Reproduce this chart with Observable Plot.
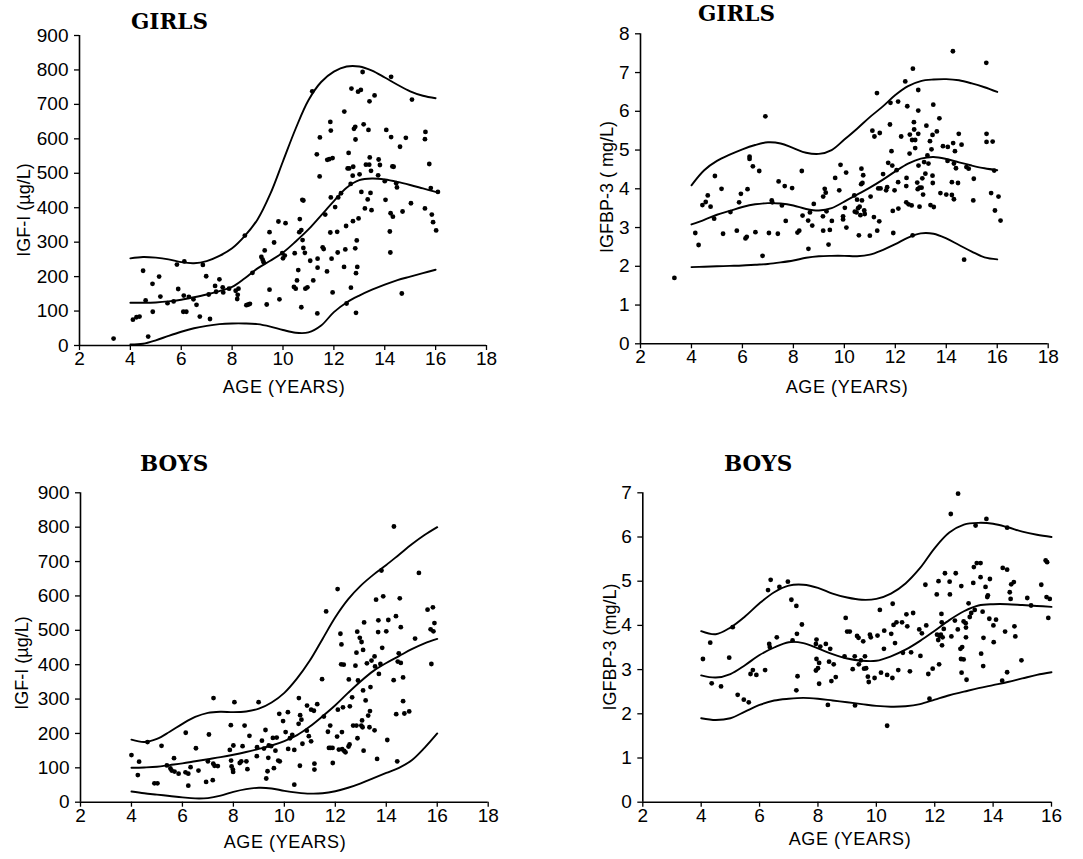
<!DOCTYPE html>
<html><head><meta charset="utf-8">
<script src="https://cdn.jsdelivr.net/npm/d3@7"></script>
<script src="https://cdn.jsdelivr.net/npm/@observablehq/plot@0.6"></script>
<style>
body{margin:0;background:#fff;}
#root{position:relative;width:1083px;height:859px;overflow:hidden;font-family:"Liberation Sans",Arial,sans-serif;color:#000;}
.panel{position:absolute;}
.panel text{font-size:19px;}
.title{position:absolute;font-family:"DejaVu Serif",serif;font-weight:bold;font-size:21.5px;line-height:1;white-space:nowrap;}
.xlab{position:absolute;font-size:18px;line-height:1;white-space:nowrap;transform:translateX(-50%);letter-spacing:0.6px;}
.ylab{position:absolute;font-size:18px;line-height:1;white-space:nowrap;transform:translate(-50%,-50%) rotate(-90deg);}
</style></head>
<body><div id="root"></div>
<script>
// ---------- DATA ----------
const ageTicks = [2,4,6,8,10,12,14,16,18];
const ageTicksBoysBP3 = [2,4,6,8,10,12,14,16];
const igf1Ticks = [0,100,200,300,400,500,600,700,800,900];
const igfbp3GirlsTicks = [0,1,2,3,4,5,6,7,8];
const igfbp3BoysTicks = [0,1,2,3,4,5,6,7];
const curveAges = [4,4.5,5,5.5,6,6.5,7,7.5,8,8.5,9,9.5,10,10.5,11,11.5,12,12.5,13,13.5,14,14.5,15,15.5,16];

// Girls IGF-I
const girlsIgf1 = [[3.34,20],[4.1,75],[4.24,82],[4.36,84],[4.5,217],[4.6,131],[4.7,26],[4.87,179],[4.88,98],[5.13,200],[5.18,142],[5.46,123],[5.7,128],[5.88,164],[5.83,235],[6.08,98],[6.2,98],[6.12,244],[6.1,145],[6.3,141],[6.48,134],[6.6,118],[6.73,84],[6.85,234],[6.98,201],[7.08,148],[7.13,77],[7.33,173],[7.37,156],[7.5,192],[7.63,169],[7.65,154],[7.88,165],[8.14,159],[8.22,147],[8.25,165],[8.2,135],[8.56,117],[8.64,119],[8.7,121],[8.5,319],[8.8,211],[9.15,257],[9.2,249],[9.28,276],[9.24,242],[9.36,119],[9.47,329],[9.47,162],[9.65,299],[9.82,360],[9.86,134],[9.97,268],[10.0,253],[10.07,261],[10.1,355],[10.43,170],[10.5,165],[10.46,268],[10.55,189],[10.6,219],[10.64,329],[10.66,367],[10.72,335],[10.72,111],[10.76,423],[10.8,421],[10.77,306],[10.8,283],[10.86,269],[10.88,165],[10.96,169],[11.07,246],[11.15,738],[11.19,189],[11.33,555],[11.36,226],[11.36,252],[11.35,93],[11.44,491],[11.45,604],[11.56,285],[11.6,280],[11.66,380],[11.73,215],[11.74,539],[11.82,541],[11.95,544],[11.86,649],[11.88,624],[11.86,328],[11.88,430],[11.91,252],[11.95,154],[12.05,402],[12.13,330],[12.15,270],[12.17,430],[12.28,442],[12.4,228],[12.41,679],[12.45,279],[12.48,347],[12.5,122],[12.54,514],[12.58,559],[12.6,514],[12.67,168],[12.66,469],[12.69,746],[12.74,493],[12.75,361],[12.76,519],[12.79,629],[12.84,635],[12.85,598],[12.84,282],[12.87,210],[12.87,95],[12.9,305],[12.92,228],[12.95,737],[12.97,369],[13.01,497],[13.06,742],[13.08,446],[13.13,794],[13.17,642],[13.22,398],[13.26,525],[13.33,424],[13.36,626],[13.39,525],[13.4,709],[13.41,546],[13.44,443],[13.46,507],[13.48,393],[13.6,726],[13.74,494],[13.76,540],[13.81,524],[14.0,477],[14.03,423],[14.06,626],[14.2,331],[14.22,270],[14.23,384],[14.25,780],[14.25,605],[14.3,520],[14.32,374],[14.35,519],[14.45,471],[14.48,459],[14.6,577],[14.67,151],[14.7,389],[14.83,603],[15.03,413],[15.07,714],[15.6,620],[15.58,599],[15.58,398],[15.75,527],[15.81,457],[15.85,380],[15.9,358],[16.02,334],[16.09,446]];
const girlsIgf1Upper = [253,257,255,250,242,239,245,260,282,318,366,440,535,630,712,765,795,810,810,798,778,757,738,725,718];
const girlsIgf1Middle = [124,124,125,128,133,140,148,158,170,195,224,246,270,302,337,378,419,458,480,485,482,475,466,456,446];
const girlsIgf1Lower = [3,5,15,28,40,50,57,62,64,64,62,55,45,37,38,58,97,125,145,162,177,190,200,210,220];

// Girls IGFBP-3
const girlsBp3 = [[3.33,1.70],[4.15,2.86],[4.28,2.55],[4.43,3.58],[4.56,3.66],[4.64,3.83],[4.75,3.54],[4.89,3.23],[4.92,4.33],[5.18,4.0],[5.24,2.84],[5.53,3.4],[5.78,2.92],[5.87,3.65],[5.94,3.87],[6.12,2.72],[6.17,2.76],[6.2,3.99],[6.28,4.83],[6.28,4.77],[6.41,4.58],[6.51,2.88],[6.66,4.46],[6.79,2.27],[6.9,5.87],[7.04,2.86],[7.15,3.7],[7.17,3.65],[7.39,2.84],[7.42,4.19],[7.55,3.57],[7.66,4.07],[7.7,3.17],[7.95,4.02],[8.16,2.87],[8.23,2.92],[8.33,4.46],[8.36,3.31],[8.58,3.18],[8.59,2.45],[8.65,3.39],[8.74,3.05],[8.8,3.61],[9.16,3.29],[9.17,2.92],[9.17,3.8],[9.23,4.0],[9.27,3.9],[9.3,3.42],[9.38,2.56],[9.43,2.94],[9.51,3.17],[9.64,4.28],[9.8,3.96],[9.85,4.62],[9.95,3.29],[9.95,3.21],[10.02,3.51],[10.07,4.42],[10.08,3.0],[10.39,3.83],[10.41,3.41],[10.48,3.39],[10.5,3.72],[10.54,3.5],[10.57,2.8],[10.6,3.54],[10.63,3.32],[10.66,4.12],[10.67,4.52],[10.69,3.7],[10.71,4.15],[10.74,4.35],[10.78,3.44],[10.8,3.35],[11.0,2.79],[11.03,3.8],[11.1,5.5],[11.16,3.27],[11.18,5.35],[11.28,6.47],[11.29,2.92],[11.33,4.01],[11.37,3.16],[11.39,5.44],[11.42,4.01],[11.52,4.38],[11.64,3.96],[11.68,4.04],[11.72,4.67],[11.79,5.66],[11.81,6.22],[11.85,4.97],[11.88,4.6],[11.9,3.43],[11.92,2.86],[11.97,3.96],[12.05,4.48],[12.11,4.17],[12.11,6.25],[12.12,3.49],[12.23,5.35],[12.39,6.77],[12.43,4.07],[12.44,4.28],[12.47,6.13],[12.43,3.65],[12.52,3.6],[12.56,4.91],[12.57,5.4],[12.64,3.57],[12.66,5.26],[12.69,7.1],[12.68,2.8],[12.73,5.72],[12.74,5.53],[12.78,5.26],[12.78,5.05],[12.86,4.16],[12.88,3.99],[12.9,6.55],[12.9,6.02],[12.9,5.42],[12.91,4.6],[12.95,3.54],[12.95,4.03],[13.03,4.03],[13.06,4.27],[13.09,3.85],[13.13,4.69],[13.18,4.39],[13.22,5.63],[13.26,4.86],[13.3,4.65],[13.36,5.23],[13.38,3.58],[13.42,5.02],[13.46,5.39],[13.46,4.34],[13.47,4.15],[13.49,6.17],[13.51,3.53],[13.63,5.48],[13.73,5.82],[13.77,3.89],[13.87,5.1],[14.0,3.85],[14.06,5.08],[14.05,4.72],[14.22,4.17],[14.22,3.84],[14.26,7.55],[14.27,5.18],[14.3,4.65],[14.3,3.73],[14.34,4.97],[14.38,4.53],[14.46,4.15],[14.49,5.42],[14.6,5.14],[14.7,2.17],[14.79,4.56],[14.88,4.52],[15.08,4.26],[15.06,3.7],[15.57,7.25],[15.58,5.42],[15.58,5.21],[15.76,3.89],[15.82,5.22],[15.88,4.47],[15.91,3.44],[16.05,3.8],[16.13,3.18]];
const girlsBp3Upper = [4.09,4.48,4.72,4.88,5.02,5.13,5.2,5.17,5.05,4.93,4.9,5.0,5.27,5.55,5.85,6.12,6.42,6.65,6.78,6.82,6.83,6.8,6.72,6.62,6.5];
const girlsBp3Middle = [3.08,3.2,3.33,3.43,3.53,3.6,3.63,3.62,3.57,3.48,3.44,3.5,3.67,3.85,4.03,4.23,4.45,4.65,4.78,4.82,4.77,4.68,4.6,4.53,4.48];
const girlsBp3Lower = [1.98,1.99,2.0,2.01,2.02,2.04,2.06,2.1,2.15,2.22,2.26,2.27,2.27,2.26,2.3,2.42,2.57,2.74,2.85,2.84,2.72,2.55,2.38,2.23,2.18];

// Boys IGF-I
const boysIgf1 = [[4.0,137],[4.25,79],[4.3,118],[4.63,175],[4.9,55],[5.02,55],[5.18,164],[5.39,107],[5.53,98],[5.58,92],[5.67,128],[5.69,89],[5.85,83],[6.13,202],[6.12,87],[6.23,83],[6.23,48],[6.32,102],[6.53,157],[6.63,92],[6.93,59],[7.0,119],[7.04,197],[7.21,112],[7.22,303],[7.19,64],[7.26,106],[7.39,105],[7.86,152],[7.9,224],[7.91,121],[7.93,104],[7.98,95],[7.99,88],[8.0,165],[8.04,291],[8.25,114],[8.31,119],[8.36,163],[8.44,223],[8.51,119],[8.55,96],[8.63,193],[8.92,134],[8.93,160],[8.99,291],[9.12,179],[9.26,210],[9.2,156],[9.29,69],[9.34,90],[9.37,129],[9.39,165],[9.48,163],[9.55,187],[9.59,99],[9.65,150],[9.7,188],[9.76,121],[9.8,257],[9.82,119],[9.95,236],[10.05,204],[10.14,262],[10.15,155],[10.22,186],[10.31,196],[10.39,152],[10.39,51],[10.57,303],[10.56,228],[10.61,106],[10.62,253],[10.67,240],[10.71,170],[10.88,208],[10.89,281],[10.96,192],[11.05,177],[11.05,269],[11.16,266],[11.18,112],[11.18,95],[11.29,285],[11.48,358],[11.55,249],[11.64,555],[11.71,205],[11.75,158],[11.81,158],[11.8,223],[11.89,158],[11.9,114],[12.09,620],[12.07,191],[12.1,269],[12.14,153],[12.2,490],[12.24,459],[12.23,401],[12.33,400],[12.26,204],[12.27,154],[12.3,276],[12.35,149],[12.4,145],[12.52,162],[12.56,168],[12.53,357],[12.57,279],[12.66,305],[12.7,223],[12.79,397],[12.83,435],[12.86,496],[12.87,186],[12.89,354],[12.83,223],[12.96,478],[13.03,466],[13.02,223],[13.05,238],[13.07,218],[13.09,443],[13.11,150],[13.09,325],[13.13,523],[13.19,296],[13.24,404],[13.29,252],[13.36,265],[13.34,218],[13.38,335],[13.42,412],[13.54,424],[13.54,209],[13.56,395],[13.6,589],[13.64,126],[13.68,495],[13.69,529],[13.71,373],[13.77,402],[13.81,674],[13.84,449],[13.88,599],[14.0,497],[14.04,181],[14.08,530],[14.3,802],[14.29,355],[14.38,541],[14.39,256],[14.43,119],[14.45,409],[14.49,433],[14.53,593],[14.57,509],[14.57,405],[14.66,363],[14.66,294],[14.71,258],[14.9,264],[15.13,476],[15.28,667],[15.62,560],[15.74,503],[15.77,402],[15.83,567],[15.85,497],[15.89,521]];
const boysIgf1Upper = [182,175,184,205,228,248,260,263,262,264,272,290,318,360,412,475,538,590,630,662,690,720,750,777,800];
const boysIgf1Middle = [100,101,103,108,113,119,125,131,138,146,155,165,178,195,220,250,282,318,352,382,405,425,445,462,475];
const boysIgf1Lower = [31,26,22,18,14,11,12,19,30,38,42,40,33,28,25,26,32,42,55,70,85,100,122,158,200];

// Boys IGFBP-3
const boysBp3 = [[4.06,3.24],[4.31,3.61],[4.36,2.69],[4.68,2.62],[4.96,3.27],[5.08,3.96],[5.25,2.43],[5.46,2.32],[5.63,2.26],[5.69,2.9],[5.77,2.99],[5.89,2.88],[6.19,2.99],[6.29,4.8],[6.33,3.58],[6.35,3.51],[6.38,5.03],[6.59,3.73],[6.68,4.87],[6.97,4.99],[7.09,4.58],[7.13,3.66],[7.26,4.44],[7.28,3.81],[7.3,2.85],[7.26,2.53],[7.45,4.02],[7.95,3.68],[7.93,3.58],[7.95,3.24],[7.93,2.98],[8.0,3.03],[8.04,3.15],[8.04,2.68],[8.08,3.52],[8.27,3.58],[8.34,2.2],[8.42,3.47],[8.38,3.18],[8.46,2.74],[8.54,3.12],[8.61,2.83],[8.91,3.3],[8.95,4.17],[9.0,3.86],[9.09,3.86],[9.19,3.01],[9.26,3.3],[9.27,2.19],[9.34,3.76],[9.39,3.72],[9.4,3.12],[9.47,3.21],[9.55,3.64],[9.58,3.02],[9.61,3.3],[9.65,3.03],[9.71,2.84],[9.74,2.72],[9.78,3.79],[9.81,3.73],[9.94,2.81],[10.04,3.77],[10.12,4.35],[10.16,2.93],[10.27,3.88],[10.26,3.47],[10.37,2.88],[10.37,1.73],[10.51,3.81],[10.55,2.81],[10.56,4.49],[10.59,4.01],[10.64,3.6],[10.69,4.07],[10.75,2.99],[10.88,4.07],[10.91,3.38],[11.03,4.25],[11.06,3.98],[11.15,2.96],[11.19,3.39],[11.26,4.28],[11.47,3.91],[11.51,3.31],[11.56,3.82],[11.68,4.92],[11.71,4.0],[11.78,2.9],[11.82,2.34],[11.93,3.02],[12.07,4.7],[12.08,3.79],[12.12,3.67],[12.13,5.0],[12.15,3.12],[12.17,3.76],[12.21,3.79],[12.23,4.26],[12.24,4.07],[12.25,3.55],[12.27,3.73],[12.31,3.92],[12.35,5.18],[12.51,4.99],[12.52,4.7],[12.55,6.52],[12.57,3.75],[12.69,4.11],[12.72,5.18],[12.8,6.98],[12.79,3.91],[12.88,3.47],[12.94,3.51],[12.91,4.89],[12.9,3.24],[12.92,2.93],[12.99,3.23],[12.99,4.09],[13.06,4.05],[13.07,3.73],[13.09,2.77],[13.07,3.95],[13.16,4.5],[13.2,4.19],[13.25,4.28],[13.32,4.96],[13.34,5.32],[13.37,4.35],[13.4,6.26],[13.44,5.41],[13.57,5.41],[13.57,5.09],[13.59,3.36],[13.64,4.31],[13.67,3.72],[13.66,3.08],[13.74,4.87],[13.77,6.41],[13.8,4.64],[13.82,4.68],[13.87,4.15],[13.89,5.05],[14.01,4.0],[14.02,3.62],[14.1,4.13],[14.31,2.75],[14.33,5.3],[14.48,5.26],[14.41,3.86],[14.48,6.21],[14.48,2.94],[14.57,4.75],[14.6,4.6],[14.62,4.93],[14.71,4.98],[14.73,3.98],[14.76,3.75],[14.97,3.21],[15.17,4.62],[15.3,4.45],[15.65,4.92],[15.8,5.47],[15.85,5.43],[15.83,4.64],[15.94,4.6],[15.89,4.17]];
const boysBp3Upper = [3.87,3.8,3.95,4.2,4.5,4.75,4.9,4.92,4.85,4.72,4.63,4.58,4.6,4.72,4.95,5.3,5.75,6.1,6.28,6.32,6.3,6.22,6.12,6.05,6.0];
const boysBp3Middle = [2.87,2.82,2.9,3.1,3.33,3.5,3.62,3.6,3.48,3.35,3.25,3.2,3.2,3.3,3.45,3.65,3.88,4.12,4.32,4.45,4.48,4.48,4.46,4.44,4.42];
const boysBp3Lower = [1.9,1.86,1.9,2.05,2.2,2.3,2.34,2.36,2.34,2.3,2.26,2.22,2.18,2.16,2.17,2.22,2.32,2.42,2.5,2.58,2.65,2.72,2.8,2.88,2.94];

// ---------- DRAWING ----------
const root = document.getElementById("root");

function curveRows(upper, middle, lower) {
  const rows = [];
  [["upper", upper], ["middle", middle], ["lower", lower]].forEach(([k, vals]) =>
    vals.forEach((v, i) => rows.push({age: curveAges[i], value: v, band: k})));
  return rows;
}

function addText(cls, text, css) {
  const el = document.createElement("div");
  el.className = cls;
  el.textContent = text;
  Object.assign(el.style, css);
  root.appendChild(el);
}

const intFmt = d3.format("d");

function panel(o) {
  const chart = Plot.plot({
    width: o.width, height: o.height,
    marginLeft: o.ml, marginRight: o.mr, marginTop: o.mt, marginBottom: o.mb,
    style: {fontFamily: "'Liberation Sans', Arial, sans-serif", fontSize: "19px", color: "black", background: "transparent", overflow: "visible"},
    x: {domain: o.xdomain},
    y: {domain: o.ydomain},
    marks: [
      Plot.axisX({ticks: o.xticks, tickFormat: intFmt, tickSize: 5, tickPadding: 1, label: null, strokeWidth: 1.3, fontSize: 19}),
      Plot.axisY({ticks: o.yticks, tickFormat: intFmt, tickSize: 5, tickPadding: 6, label: null, strokeWidth: 1.3, fontSize: 19}),
      Plot.ruleY([o.ydomain[0]], {x1: o.xdomain[0], x2: o.xdomain[1], strokeWidth: 1.6}),
      Plot.ruleX([o.xdomain[0]], {y1: o.ydomain[0], y2: o.ydomain[1], strokeWidth: 1.6}),
      Plot.line(o.curves, {x: "age", y: "value", z: "band", curve: "catmull-rom", stroke: "black", strokeWidth: 1.9}),
      Plot.dot(o.points, {x: d => d[0], y: d => d[1], r: 2.4, fill: "black", stroke: "none"})
    ]
  });
  chart.classList.add("panel");
  chart.style.left = o.left + "px";
  chart.style.top = o.top + "px";
  chart.style.position = "absolute";
  root.appendChild(chart);
}

panel({left: 0, top: 0, width: 540, height: 400, ml: 79, mr: 54, mt: 35, mb: 55,
  xdomain: [2, 18], xticks: ageTicks, ydomain: [0, 900], yticks: igf1Ticks,
  points: girlsIgf1, curves: curveRows(girlsIgf1Upper, girlsIgf1Middle, girlsIgf1Lower)});
panel({left: 540, top: 0, width: 543, height: 400, ml: 100, mr: 35.3, mt: 33.3, mb: 56.7,
  xdomain: [2, 18], xticks: ageTicks, ydomain: [0, 8], yticks: igfbp3GirlsTicks,
  points: girlsBp3, curves: curveRows(girlsBp3Upper, girlsBp3Middle, girlsBp3Lower)});
panel({left: 0, top: 440, width: 540, height: 419, ml: 80, mr: 52.3, mt: 52.3, mb: 57.3,
  xdomain: [2, 18], xticks: ageTicks, ydomain: [0, 900], yticks: igf1Ticks,
  points: boysIgf1, curves: curveRows(boysIgf1Upper, boysIgf1Middle, boysIgf1Lower)});
panel({left: 540, top: 440, width: 543, height: 419, ml: 102.3, mr: 32, mt: 52.3, mb: 57.3,
  xdomain: [2, 16], xticks: ageTicksBoysBP3, ydomain: [0, 7], yticks: igfbp3BoysTicks,
  points: boysBp3, curves: curveRows(boysBp3Upper, boysBp3Middle, boysBp3Lower)});

// titles
addText("title", "GIRLS", {left: "131px", top: "11px"});
addText("title", "GIRLS", {left: "698px", top: "3px"});
addText("title", "BOYS", {left: "140px", top: "453px"});
addText("title", "BOYS", {left: "724px", top: "453px"});
// x labels
addText("xlab", "AGE (YEARS)", {left: "284px", top: "378px"});
addText("xlab", "AGE (YEARS)", {left: "847px", top: "378px"});
addText("xlab", "AGE (YEARS)", {left: "285px", top: "833px"});
addText("xlab", "AGE (YEARS)", {left: "850px", top: "830px"});
// y labels
addText("ylab", "IGF-I (µg/L)", {left: "24px", top: "210px"});
addText("ylab", "IGFBP-3 ( mg/L)", {left: "607px", top: "187px"});
addText("ylab", "IGF-I (µg/L)", {left: "22px", top: "663px"});
addText("ylab", "IGFBP-3 (mg/L)", {left: "610px", top: "647px"});
</script>
</body></html>
